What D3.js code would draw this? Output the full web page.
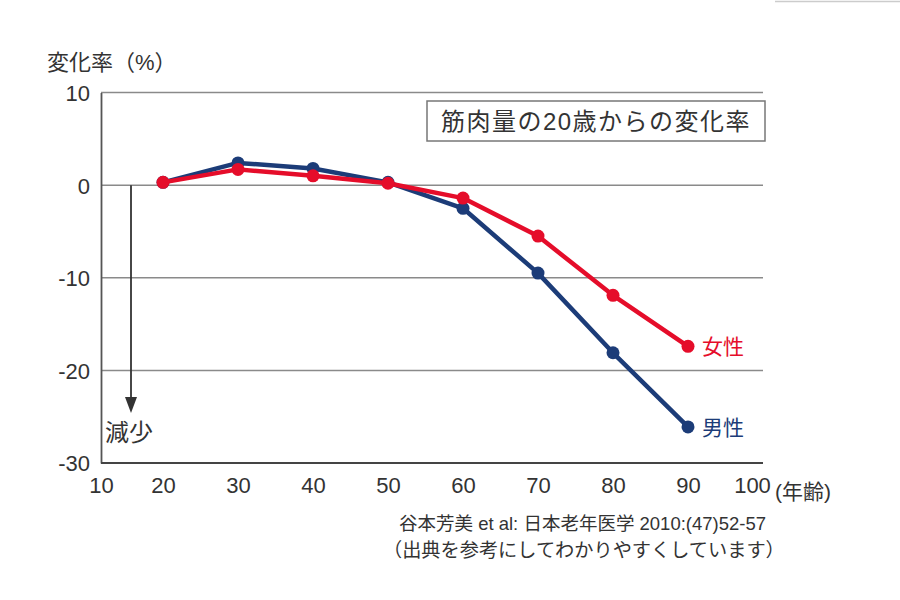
<!DOCTYPE html>
<html><head><meta charset="utf-8">
<script src="https://cdn.jsdelivr.net/npm/d3@7"></script>
<style>
html,body{margin:0;padding:0;background:#fff;}
text{font-family:"Liberation Sans","Noto Sans CJK JP",sans-serif;}
</style></head>
<body><svg id="c" width="900" height="600"></svg>
<script>
const ages = [20, 30, 40, 50, 60, 70, 80, 90];
const male = [0.3, 2.4, 1.8, 0.3, -2.5, -9.5, -18.1, -26.1];
const female = [0.3, 1.7, 1.0, 0.2, -1.4, -5.5, -11.9, -17.4];
const xTicks = [10, 20, 30, 40, 50, 60, 70, 80, 90, 100];
const yTicks = [10, 0, -10, -20, -30];
const title = "筋肉量の20歳からの変化率";
const yLabel = "変化率（%）";
const xUnit = "(年齢)";
const source1 = "谷本芳美 et al: 日本老年医学 2010:(47)52-57";
const source2 = "（出典を参考にしてわかりやすくしています）";

const svg = d3.select("#c");
const x = d3.scaleLinear().domain([10, 20, 100]).range([101, 163, 763]);
const y = d3.scaleLinear().domain([10, -30]).range([92.5, 463]);
const left = 101, right = 763;

svg.append("line").attr("x1", 775).attr("x2", 900).attr("y1", 1.5).attr("y2", 1.5)
  .attr("stroke", "#ccc").attr("stroke-width", 1.5);

// grid lines
svg.append("g").selectAll("line").data(yTicks.filter(d => d > -30)).join("line")
  .attr("x1", left).attr("x2", right).attr("y1", d => y(d)).attr("y2", d => y(d))
  .attr("stroke", "#8a8a8a").attr("stroke-width", 1.5);

// axes
const yAxis = svg.append("g").attr("transform", `translate(${left},0)`)
  .call(d3.axisLeft(y).tickValues(yTicks).tickSize(0).tickPadding(11).tickFormat(d => String(d)));
yAxis.select(".domain").attr("stroke", "#555").attr("stroke-width", 1.8);
yAxis.selectAll("text").attr("font-size", 22).attr("fill", "#333").attr("dy", "0.36em");

const xAxis = svg.append("g").attr("transform", `translate(0,${y(-30)})`)
  .call(d3.axisBottom(x).tickValues(xTicks).tickSize(0).tickPadding(14).tickFormat(d => String(d)));
xAxis.select(".domain").attr("stroke", "#444").attr("stroke-width", 2).attr("d", `M${left},0H${right}`);
xAxis.selectAll("text").attr("font-size", 22).attr("fill", "#333")
  .attr("dx", d => d === 100 ? -11 : 0);

svg.append("text").attr("x", 775).attr("y", 499).attr("font-size", 21).attr("fill", "#333")
  .text(xUnit);
svg.append("text").attr("x", 47).attr("y", 70).attr("font-size", 22).attr("fill", "#333")
  .text(yLabel);

// title box
svg.append("rect").attr("x", 427).attr("y", 101).attr("width", 338).attr("height", 40)
  .attr("fill", "#fff").attr("stroke", "#777").attr("stroke-width", 1.5);
svg.append("text").attr("x", 596).attr("y", 130).attr("text-anchor", "middle")
  .attr("font-size", 24).attr("letter-spacing", 1.5).attr("fill", "#333").text(title);

// arrow
svg.append("line").attr("x1", 131).attr("x2", 131).attr("y1", y(0)).attr("y2", 400)
  .attr("stroke", "#333").attr("stroke-width", 1.8);
svg.append("path").attr("d", "M125,397L137,397L131,413Z").attr("fill", "#333");
svg.append("text").attr("x", 105).attr("y", 441).attr("font-size", 24).attr("fill", "#333").text("減少");

// series
const series = [
  {name: "男性", values: male, color: "#1c3c78"},
  {name: "女性", values: female, color: "#e50d2a"}
];
const line = d3.line().x((d, i) => x(ages[i])).y(d => y(d));
series.forEach(s => {
  svg.append("path").attr("d", line(s.values)).attr("fill", "none")
    .attr("stroke", s.color).attr("stroke-width", 4.5).attr("stroke-linejoin", "round");
  svg.append("g").selectAll("circle").data(s.values).join("circle")
    .attr("cx", (d, i) => x(ages[i])).attr("cy", d => y(d)).attr("r", 6.5).attr("fill", s.color);
  const last = s.values[s.values.length - 1];
  svg.append("text").attr("x", x(90) + 14).attr("y", y(last) + 8)
    .attr("font-size", 21).attr("fill", s.color).text(s.name);
});

// source
svg.append("text").attr("x", 399).attr("y", 530).attr("font-size", 18.5).attr("fill", "#333").text(source1);
svg.append("text").attr("x", 383).attr("y", 557).attr("font-size", 19.2).attr("fill", "#333").text(source2);
</script>
</body></html>
